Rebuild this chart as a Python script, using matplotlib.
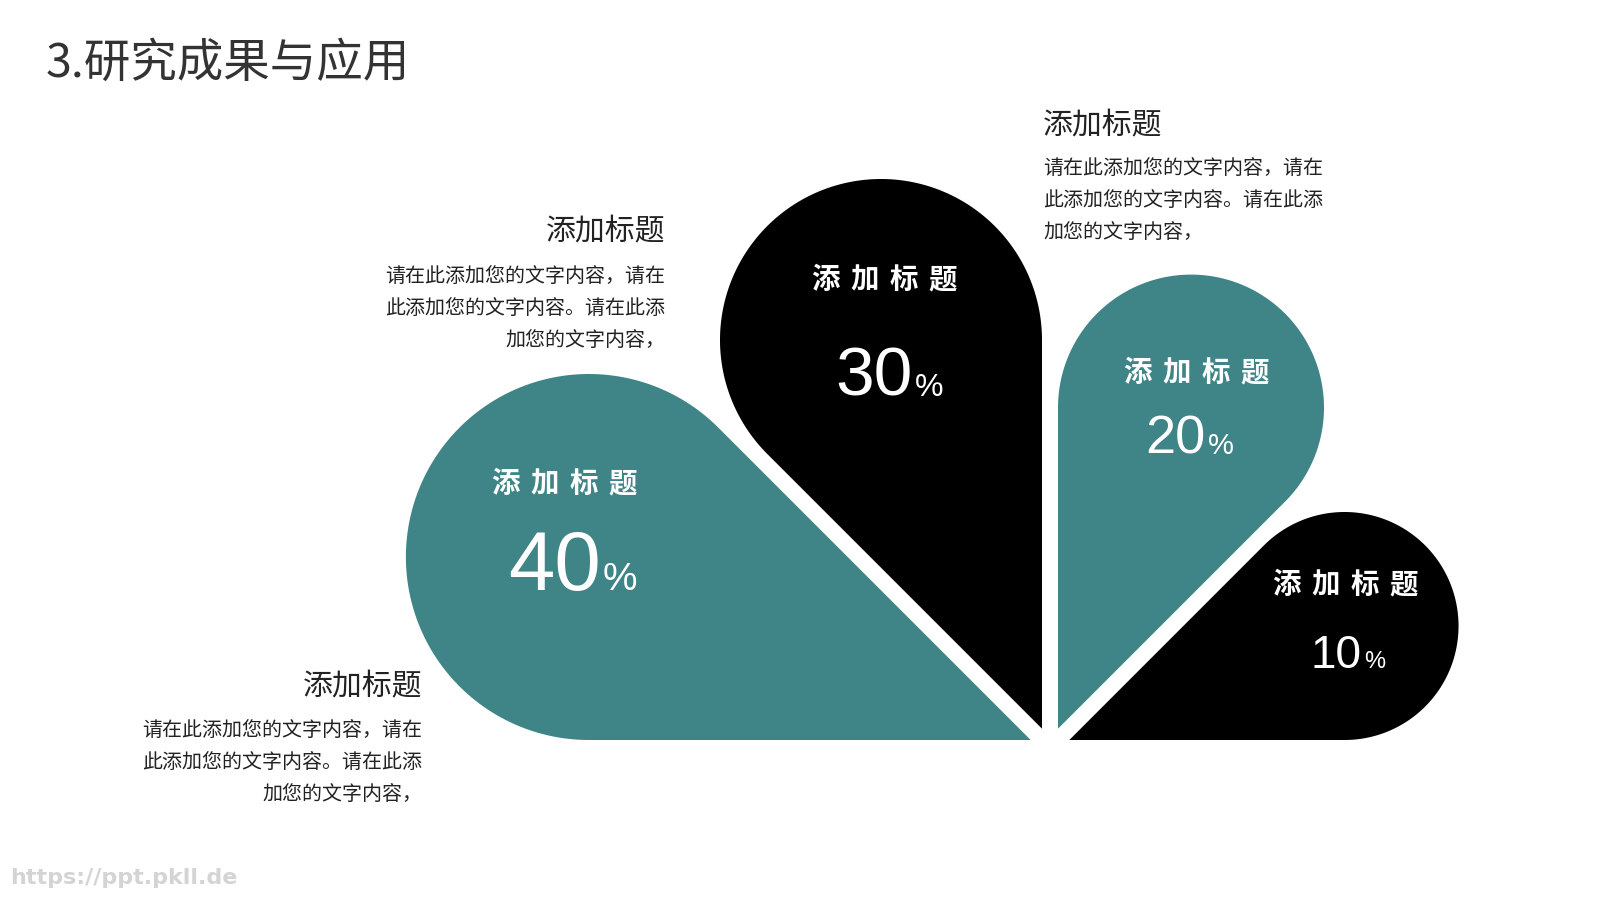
import matplotlib
matplotlib.use("Agg")
import matplotlib.pyplot as plt
from matplotlib.patches import Polygon
import numpy as np

# data
values = [40, 30, 20, 10]
petal_titles = ["添加标题", "添加标题", "添加标题", "添加标题"]
side_titles = ["添加标题", "添加标题", "添加标题"]
side_body = ["请在此添加您的文字内容，请在",
             "此添加您的文字内容。请在此添",
             "加您的文字内容，"]
page_title = "3.研究成果与应用"
watermark = "https://ppt.pkll.de"

# layout (pixel coords, y down)
origin = (1050, 748)
gap = 8
half = np.radians(22.5)
bisectors = [157.5, 112.5, 67.5, 22.5]
radii = [183, 161, 133, 114]
colors = ["#3F8587", "#000000", "#3F8587", "#000000"]
head_pos = [(564, 484), (884, 280), (1196, 373), (1345, 585)]
num_split = [(601, 590), (913, 396), (1206, 454), (1362, 668)]
num_size = [60, 50, 39, 33]
pct_size = [28, 23, 21, 17]

CJK = ["Noto Sans CJK SC", "DejaVu Sans"]
DARK = "#222222"

fig = plt.figure(figsize=(16, 9), dpi=100)
ax = fig.add_axes([0, 0, 1, 1])
ax.set_xlim(0, 1600)
ax.set_ylim(900, 0)
ax.axis("off")


def unit(deg):
    a = np.radians(deg)
    return np.array([np.cos(a), -np.sin(a)])


def petal(beta, r):
    # teardrop: circle plus two tangents meeting at a 45 degree tip
    tip = np.array(origin, float) + gap / np.sin(half) * unit(beta)
    c = tip + r / np.sin(half) * unit(beta)
    start = beta + 180 + 67.5
    angs = np.linspace(start, start + 225, 200)
    pts = [tip] + [c + r * unit(a) for a in angs]
    return np.array(pts)


# petals
for i, v in enumerate(values):
    ax.add_patch(Polygon(petal(bisectors[i], radii[i]), closed=True,
                         facecolor=colors[i], edgecolor="none"))
    hx, hy = head_pos[i]
    for k, ch in enumerate(petal_titles[i]):
        ax.text(hx + (k - 1.5) * 39, hy, ch, color="white", fontsize=20.5,
                fontweight="heavy", family=CJK, ha="center", va="center")
    sx, sy = num_split[i]
    ax.text(sx, sy, str(v), color="white", fontsize=num_size[i],
            family="Liberation Sans", ha="right", va="baseline")
    ax.text(sx + 2, sy, "%", color="white", fontsize=pct_size[i],
            family="Liberation Sans", ha="left", va="baseline")

# side text blocks: (x, header y, body ys, alignment)
blocks = [(1043, 126, [169, 201, 233], "left"),
          (665, 232, [277, 309, 341], "right"),
          (422, 687, [731, 763, 795], "right")]
for (bx, hy, ys, al), t in zip(blocks, side_titles):
    ax.text(bx, hy, t, color=DARK, fontsize=21.5, family=CJK,
            ha=al, va="center")
    for line, y in zip(side_body, ys):
        ax.text(bx, y, line, color=DARK, fontsize=14.4, family=CJK,
                ha=al, va="center")

# title and watermark
ax.text(46, 64, page_title, color="#333333", fontsize=33.5, family=CJK,
        fontweight="light", ha="left", va="center")
ax.text(10, 878, watermark, color="#d4d4d4", fontsize=16, fontweight="bold",
        family="DejaVu Sans", ha="left", va="center")

fig.savefig("out.png", dpi=100, facecolor="white")
